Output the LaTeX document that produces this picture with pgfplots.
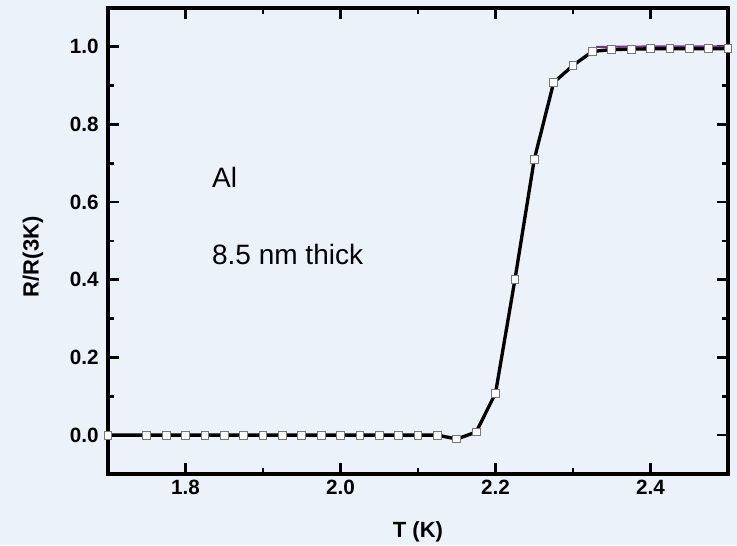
\documentclass[border=0pt]{standalone}
\usepackage{pgfplots}
\pgfplotsset{compat=1.18}
\usepackage{fontspec}
\setmainfont{Liberation Sans}
\definecolor{bgcol}{RGB}{236,242,250}
\definecolor{mkedge}{RGB}{120,120,120}
\definecolor{purp}{RGB}{120,50,140}
\pgfplotstableread{
T R
1.700 0.000
1.750 0.000
1.775 0.000
1.800 0.000
1.825 0.000
1.850 0.000
1.875 0.000
1.900 0.000
1.925 0.000
1.950 0.000
1.975 0.000
2.000 0.000
2.025 0.000
2.050 0.000
2.075 0.000
2.100 0.000
2.125 0.000
2.150 -0.010
2.175 0.008
2.200 0.108
2.225 0.400
2.250 0.710
2.275 0.908
2.300 0.952
2.325 0.988
2.350 0.993
2.375 0.994
2.400 0.995
2.425 0.995
2.450 0.995
2.475 0.995
2.500 0.995
}\datatable
\pgfplotstableread{
T R
2.330 1.000
2.400 1.001
2.500 1.001
}\purptable
\begin{document}
\begin{tikzpicture}
\fill[bgcol] (0,0) rectangle (552.75pt,408.75pt);
\path[use as bounding box] (0,0) rectangle (552.75pt,408.75pt);
\begin{axis}[
  at={(81pt,53.25pt)}, anchor=south west,
  width=465pt, height=349.5pt, scale only axis,
  xmin=1.7, xmax=2.5, ymin=-0.1, ymax=1.1,
  xtick={1.8,2.0,2.2,2.4}, ytick={0,0.2,0.4,0.6,0.8,1.0},
  minor xtick={1.7,1.9,2.1,2.3,2.5}, minor ytick={0.1,0.3,0.5,0.7,0.9},
  tick align=inside,
  major tick length=8pt, minor tick length=4.5pt,
  major tick style={line width=2pt, black},
  minor tick style={line width=2pt, black},
  clip=false,
  /pgf/number format/assume math mode=true,
  /pgf/number format/fixed,
  /pgf/number format/fixed zerofill,
  /pgf/number format/precision=1,
  ticklabel style={font=\bfseries\fontsize{15.5}{16}\selectfont},
  yticklabel style={xshift=-3.5pt},
  xticklabel style={yshift=-1pt},
  xlabel={T (K)}, ylabel={R/R(3K)},
  every axis x label/.style={at={(axis description cs:0.5,-0.125)},anchor=center,font=\bfseries\fontsize{16.5}{17}\selectfont},
  every axis y label/.style={at={(axis description cs:-0.121,0.466)},rotate=90,anchor=center,font=\bfseries\fontsize{16.5}{17}\selectfont},
  axis background/.style={fill=bgcol},
]
\addplot[purp, line width=1.5pt, forget plot] table[x=T,y=R] {\purptable};
\addplot[black, line width=2.5pt, mark=square*,
  mark options={fill=white, draw=mkedge, line width=0.7pt, mark size=2.9pt}]
  table[x=T,y=R] {\datatable};
\draw[black, line width=2.5pt] (rel axis cs:0,0) rectangle (rel axis cs:1,1);
\node[anchor=base west, inner sep=0pt, font=\fontsize{21}{22}\selectfont] at (axis cs:1.834,0.637) {Al};
\node[anchor=base west, inner sep=0pt, font=\fontsize{21}{22}\selectfont] at (axis cs:1.834,0.439) {8.5 nm thick};
\end{axis}
\end{tikzpicture}
\end{document}
